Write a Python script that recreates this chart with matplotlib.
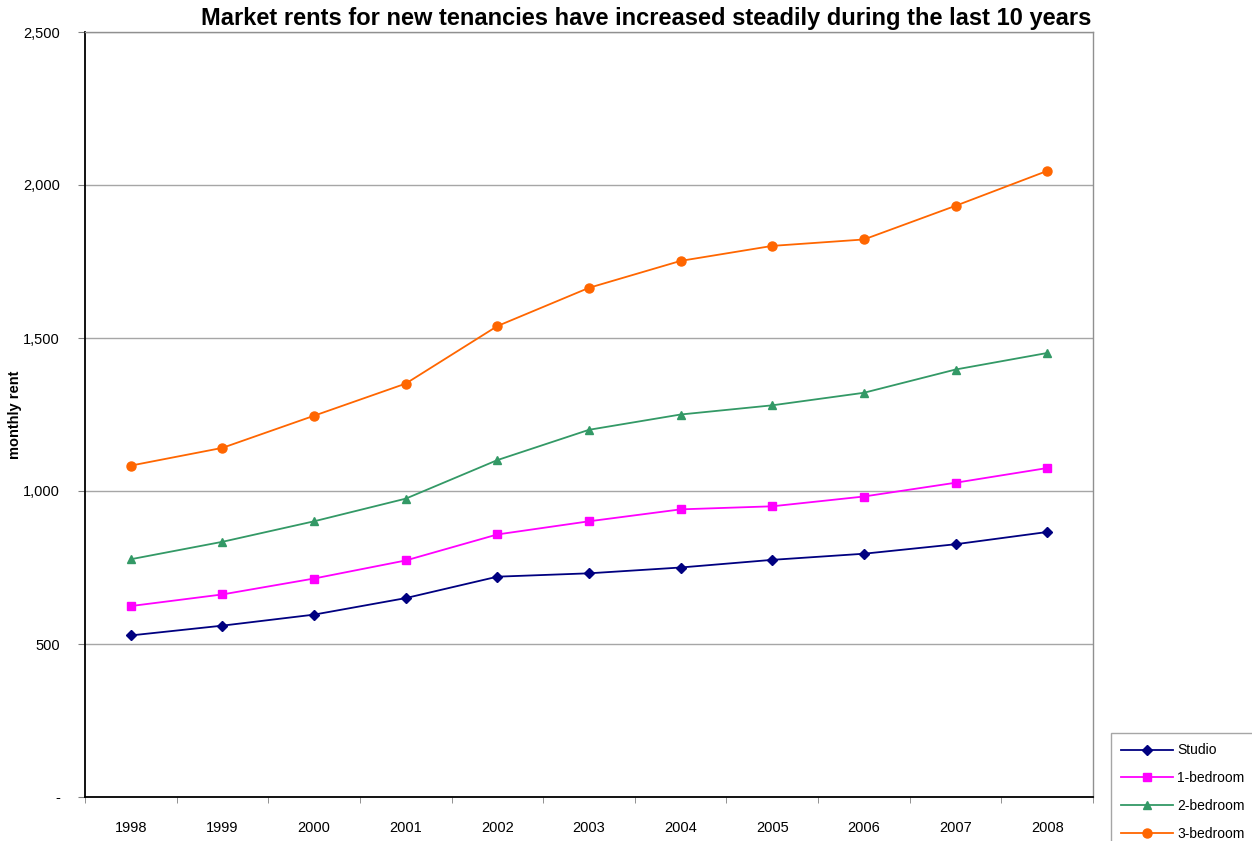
import matplotlib.pyplot as plt
from matplotlib.ticker import FixedLocator, FuncFormatter

plt.rcParams['font.family'] = ['Liberation Sans', 'DejaVu Sans']

# Alquiler mensual medio por tipo de vivienda
years = ['1998', '1999', '2000', '2001', '2002', '2003', '2004', '2005', '2006', '2007', '2008']
studio = [528, 560, 596, 650, 720, 731, 750, 775, 795, 826, 866]
one_bed = [624, 662, 714, 773, 858, 901, 940, 950, 982, 1027, 1075]
two_bed = [777, 834, 901, 975, 1101, 1200, 1250, 1280, 1321, 1397, 1451]
three_bed = [1083, 1141, 1246, 1351, 1539, 1664, 1752, 1801, 1822, 1932, 2046]

series = [
    ('Studio', studio, '#000080', 'D', 5),
    ('1-bedroom', one_bed, '#FF00FF', 's', 6),
    ('2-bedroom', two_bed, '#339966', '^', 6),
    ('3-bedroom', three_bed, '#FF6600', 'o', 6.5),
]

fig = plt.figure(figsize=(12.52, 8.41), dpi=100)
ax = fig.add_axes([85 / 1252, 1 - 797 / 841, 1008 / 1252, 765 / 841])

x = list(range(len(years)))
for name, vals, color, marker, ms in series:
    ax.plot(x, vals, color=color, marker=marker, markersize=ms, linewidth=1.3, label=name)

# Ejes
ax.set_xlim(-0.5, len(years) - 0.5)
ax.set_ylim(0, 2500)
ax.set_yticks([0, 500, 1000, 1500, 2000, 2500])
ax.yaxis.set_major_formatter(FuncFormatter(lambda v, p: '-' if v == 0 else f'{int(v):,}'))
ax.grid(axis='y', color='#a6a6a6', linewidth=1)
ax.set_axisbelow(True)

ax.set_xticks(x)
ax.set_xticklabels(years)
ax.xaxis.set_minor_locator(FixedLocator([i - 0.5 for i in range(len(years) + 1)]))
ax.tick_params(axis='x', which='major', length=0, pad=17, labelsize=10.5)
ax.tick_params(axis='x', which='minor', length=4, color='#808080', direction='out')
ax.tick_params(axis='y', length=5, color='#808080', pad=13, labelsize=10.5)

for side in ['left', 'bottom']:
    ax.spines[side].set_color('black')
    ax.spines[side].set_linewidth(1.3)
for side in ['top', 'right']:
    ax.spines[side].set_color('#909090')
    ax.spines[side].set_linewidth(1)

ax.set_ylabel('monthly rent', fontsize=10.5, fontweight='bold', va='center')
ax.yaxis.set_label_coords(-70 / 1008, 0.5)

fig.text(1091 / 1252, 1 - 19 / 841, 'Market rents for new tenancies have increased steadily during the last 10 years',
         ha='right', va='center', fontsize=17, fontweight='bold')

# Leyenda en la esquina inferior derecha, parcialmente fuera de la figura
leg = fig.legend(loc='upper left', bbox_to_anchor=(1111 / 1252, 1 - 733 / 841), frameon=True,
                 fancybox=False, edgecolor='#909090', fontsize=10, handlelength=3.7,
                 labelspacing=1.0, borderpad=0.75, handletextpad=0.3, borderaxespad=0)
leg.get_frame().set_linewidth(1)

plt.savefig('out.png', dpi=100)
